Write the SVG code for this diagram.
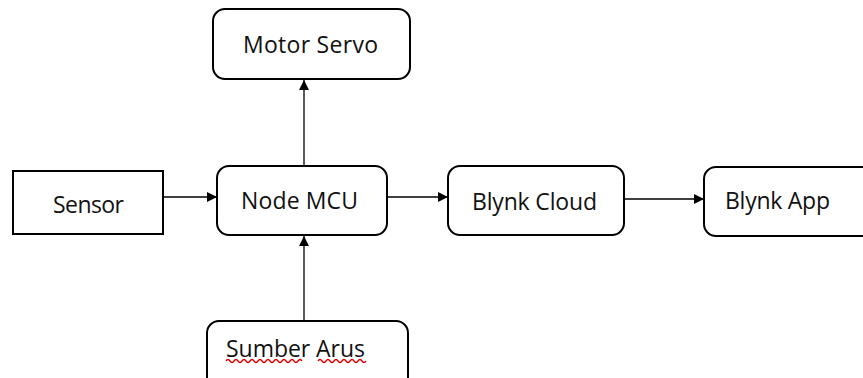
<svg xmlns="http://www.w3.org/2000/svg" width="863" height="378" viewBox="0 0 863 378">
<defs>
<style>
.box{fill:#fff;stroke:#000;stroke-width:2}
.lbl{font-family:"Open Sans","DejaVu Sans",sans-serif;font-size:23px;fill:#111}
.con{stroke:#000;stroke-width:1.3;fill:none;marker-end:url(#ah)}
.sq{stroke:#e00000;stroke-width:1.4;fill:none}
</style>
<marker id="ah" viewBox="0 0 10 10" refX="10" refY="5" markerWidth="11" markerHeight="10" markerUnits="userSpaceOnUse" orient="auto">
<path d="M0,0 L10,5 L0,10 z" fill="#000"/>
</marker>
</defs>
<rect width="863" height="378" fill="#fff"/>
<g id="connectors">
<line class="con" x1="164" y1="197" x2="217" y2="197"/>
<line class="con" x1="304" y1="166" x2="304" y2="80"/>
<line class="con" x1="304" y1="321" x2="304" y2="236"/>
<line class="con" x1="388" y1="197" x2="448" y2="197"/>
<line class="con" x1="625" y1="199" x2="704" y2="199"/>
</g>
<g id="sensor">
<rect class="box" x="13" y="171" width="150" height="63"/>
<text class="lbl" x="53" y="213" textLength="71">Sensor</text>
</g>
<g id="nodemcu">
<rect class="box" x="217" y="166" width="170" height="69" rx="12"/>
<text class="lbl" x="241" y="209" textLength="117">Node MCU</text>
</g>
<g id="motorservo">
<rect class="box" x="213" y="9" width="197" height="70" rx="12"/>
<text class="lbl" x="243" y="53" textLength="135">Motor Servo</text>
</g>
<g id="sumberarus">
<rect class="box" x="207" y="321" width="201" height="80" rx="12"/>
<text class="lbl" x="226" y="357" textLength="139">Sumber Arus</text>
<path class="sq" d="M226,361 q2,-3 4,0 t4,0 t4,0 t4,0 t4,0 t4,0 t4,0 t4,0 t4,0 t4,0 t4,0 t4,0 t4,0 t4,0 t4,0 t4,0 t4,0 t4,0 t4,0"/>
<path class="sq" d="M318,361 q2,-3 4,0 t4,0 t4,0 t4,0 t4,0 t4,0 t4,0 t4,0 t4,0 t4,0 t4,0 t4,0"/>
</g>
<g id="blynkcloud">
<rect class="box" x="448" y="166" width="176" height="69" rx="12"/>
<text class="lbl" x="472" y="210" textLength="125">Blynk Cloud</text>
</g>
<g id="blynkapp">
<rect class="box" x="704" y="167" width="180" height="69" rx="12"/>
<text class="lbl" x="725" y="209" textLength="105">Blynk App</text>
</g>
</svg>
